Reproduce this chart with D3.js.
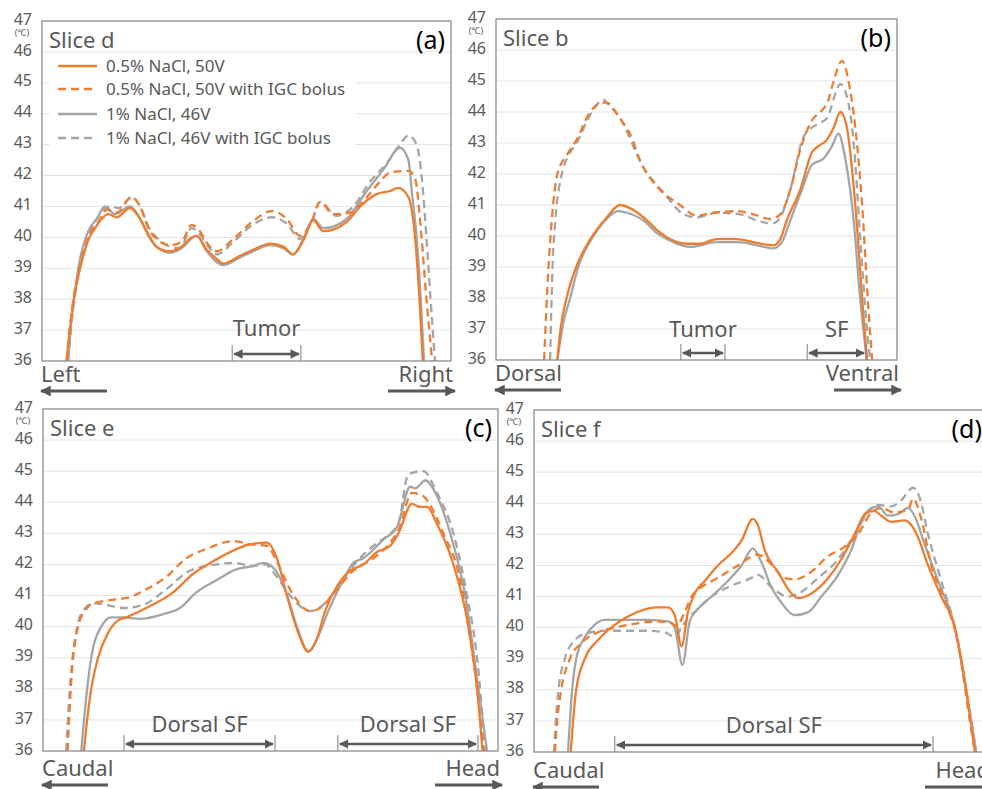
<!DOCTYPE html>
<html lang="en">
<head>
<meta charset="utf-8">
<title>Temperature profiles - slices d, b, e, f</title>
<script src="https://cdn.jsdelivr.net/npm/d3@7/dist/d3.min.js"></script>
<style>
  body { margin: 0; background: #fff; }
  svg text { font-family: "Noto Sans", "DejaVu Sans", sans-serif; }
</style>
</head>
<body>
<script>
// y axis ticks (deg C)
var yTicks = [36, 37, 38, 39, 40, 41, 42, 43, 44, 45, 46, 47];
var seriesNames = ["0.5% NaCl, 50V", "0.5% NaCl, 50V with IGC bolus", "1% NaCl, 46V", "1% NaCl, 46V with IGC bolus"];

// profiles: [position along line (% of width), temperature]
// slice d
var sliceD_05 = [[6.0,36],[6.8,37],[7.8,38],[9.3,39],[10.3,39.5],[11.6,40],[13.0,40.3],[14.6,40.6],[16.2,40.75],[18.3,40.65],[21.5,40.95],[24.0,40.6],[25.6,40.2],[28.0,39.7],[31.3,39.55],[34.1,39.7],[36.6,40.0],[37.8,40.05],[40.3,39.6],[42.7,39.3],[44.3,39.15],[48.4,39.4],[52.5,39.65],[55.7,39.8],[59.0,39.7],[61.4,39.45],[63.9,39.9],[66.3,40.55],[68.8,40.2],[71.2,40.25],[74.5,40.5],[77.8,41.0],[81.8,41.4],[85.1,41.5],[87.1,41.6],[89.6,41.3],[91.2,40.0],[92.3,38.0],[93.1,36.0]];
var sliceD_05b = [[6.0,36],[6.8,37.1],[7.8,38.1],[9.3,39.1],[11.6,40.1],[13.8,40.5],[15.8,40.9],[18.3,40.8],[21.9,41.3],[24.0,41.0],[26.0,40.3],[28.4,39.9],[31.3,39.75],[34.1,39.85],[36.6,40.4],[38.6,40.2],[40.7,39.75],[42.7,39.55],[46.8,39.95],[50.9,40.45],[56.2,40.85],[59.8,40.6],[63.1,40.05],[65.9,40.5],[68.0,41.15],[71.2,40.75],[75.3,40.8],[79.4,41.3],[82.6,41.8],[85.1,42.1],[89.6,42.15],[91.2,41.9],[92.8,40.0],[94.0,38.0],[95.4,36.0]];
var sliceD_1 = [[6.4,36],[7.1,37.2],[8.1,38.3],[9.3,39.3],[11.3,40.2],[13.4,40.6],[15.4,41.0],[17.8,40.75],[21.5,41.0],[24.0,40.6],[26.0,40.05],[28.4,39.65],[31.3,39.5],[34.1,39.65],[37.8,40.05],[40.3,39.55],[44.3,39.1],[48.4,39.35],[52.5,39.6],[55.7,39.75],[59.0,39.65],[61.4,39.45],[63.9,39.95],[66.3,40.6],[68.8,40.3],[71.2,40.35],[74.5,40.6],[79.4,41.5],[83.5,42.2],[87.5,42.9],[89.6,42.5],[90.4,41.5],[91.6,40.0],[92.6,38.0],[93.4,36.0]];
var sliceD_1b = [[6.4,36],[7.3,37.3],[8.5,38.5],[10.1,39.5],[11.7,40.2],[13.4,40.6],[15.0,40.9],[17.0,41.0],[18.7,40.95],[21.9,41.3],[24.0,41.0],[26.0,40.35],[28.4,39.95],[31.3,39.7],[33.7,39.65],[36.6,40.3],[38.6,40.1],[40.7,39.7],[42.7,39.45],[46.8,39.85],[50.9,40.35],[56.2,40.65],[59.8,40.45],[63.1,39.95],[65.9,40.5],[68.0,41.15],[72.0,40.7],[76.1,41.0],[80.2,41.8],[84.3,42.4],[87.5,43.0],[89.6,43.3],[91.6,43.0],[92.8,42.0],[94.0,40.0],[95.0,38.0],[96.1,36.0]];

// slice b
var sliceB_05 = [[15.3,36],[16.1,37],[17.6,38],[20.0,39],[22.6,39.7],[25.1,40.2],[27.6,40.6],[30.9,41.0],[33.4,40.9],[36.8,40.6],[40.1,40.2],[43.4,39.9],[47.6,39.75],[50.9,39.75],[55.1,39.9],[60.1,39.9],[64.2,39.8],[69.2,39.7],[70.9,39.9],[72.5,40.5],[75.9,41.5],[78.8,42.7],[80.4,42.9],[82.5,43.1],[84.2,43.5],[85.9,44.0],[87.5,43.5],[89.6,41.0],[91.3,38.0],[92.5,36.0]];
var sliceB_05b = [[12.0,36],[13.1,39],[13.9,40.5],[15.3,42.0],[17.6,42.6],[20.1,43.1],[23.0,43.9],[26.4,44.3],[27.6,44.3],[30.9,43.8],[33.4,43.3],[36.4,42.3],[40.1,41.6],[45.9,41.0],[50.1,40.65],[54.2,40.75],[60.1,40.8],[64.2,40.7],[68.4,40.55],[70.9,40.7],[73.4,41.5],[75.9,42.8],[79.2,43.8],[80.9,44.0],[82.9,44.4],[84.2,45.0],[86.3,45.65],[87.9,45.0],[89.6,43.5],[91.3,41.0],[92.7,38.0],[93.8,36.0]];
var sliceB_1 = [[15.3,36],[16.8,37.2],[18.5,38.0],[20.5,39.0],[24.3,40.0],[27.2,40.5],[30.5,40.8],[32.6,40.75],[36.8,40.5],[40.1,40.1],[43.4,39.85],[48.4,39.65],[55.1,39.8],[60.1,39.8],[65.1,39.7],[69.2,39.6],[71.3,39.8],[73.4,40.5],[76.3,41.5],[78.8,42.3],[81.7,42.5],[83.8,42.9],[85.4,43.3],[87.1,42.5],[89.2,40.5],[90.8,38.0],[92.5,36.0]];
var sliceB_1b = [[13.5,36],[14.1,39],[14.8,40.5],[16.4,42.0],[18.1,42.6],[20.1,43.0],[23.9,44.0],[26.8,44.4],[27.6,44.3],[30.9,43.8],[36.8,42.2],[41.8,41.4],[46.8,40.7],[50.1,40.6],[55.1,40.75],[60.9,40.7],[65.1,40.5],[68.8,40.4],[70.9,40.6],[73.4,41.5],[76.7,43.2],[80.0,43.6],[82.5,43.8],[85.9,44.9],[87.5,44.5],[89.2,43.0],[90.8,40.0],[92.5,37.0],[93.3,36.0]];

// slice e
var sliceE_05 = [[9.0,36],[9.7,37],[10.6,38],[12.1,39],[14.3,39.8],[16.5,40.2],[18.3,40.3],[22.7,40.6],[28.6,41.1],[33.0,41.7],[37.4,42.1],[42.6,42.5],[45.5,42.65],[49.2,42.7],[51.4,42.2],[53.6,41.0],[56.1,39.8],[58.3,39.2],[60.2,39.6],[62.0,40.5],[64.6,41.3],[67.5,41.8],[70.4,42.0],[73.4,42.4],[76.3,42.6],[78.1,43.0],[81.1,43.95],[82.9,43.85],[84.4,43.85],[86.6,43.3],[90.2,42.0],[93.5,40.0],[95.4,38.0],[96.6,36.0]];
var sliceE_05b = [[5.4,36],[6.1,38],[7.7,40],[9.2,40.5],[11.0,40.75],[14.7,40.85],[19.1,40.95],[22.7,41.2],[27.1,41.6],[31.5,42.2],[35.9,42.5],[41.8,42.75],[45.5,42.65],[49.2,42.6],[51.7,42.0],[54.3,41.2],[58.7,40.5],[60.9,40.6],[64.6,41.2],[68.2,41.8],[72.6,42.2],[76.3,42.7],[78.1,43.1],[81.1,44.3],[83.6,44.2],[84.7,44.0],[88.0,43.0],[91.7,41.5],[93.5,40.0],[95.4,38.0],[96.8,36.0]];
var sliceE_1 = [[8.4,36],[9.7,38],[10.6,39],[12.8,40],[15.0,40.3],[17.6,40.3],[21.3,40.25],[26.4,40.4],[30.1,40.6],[33.7,41.1],[38.2,41.5],[42.6,41.85],[46.2,41.95],[48.4,42.05],[50.6,41.9],[53.2,41.2],[55.8,40.0],[58.3,39.2],[60.5,39.7],[62.7,40.5],[66.0,41.5],[68.2,42.05],[70.4,42.2],[74.8,42.8],[77.8,43.2],[80.7,44.5],[81.8,44.45],[84.0,44.7],[86.6,44.2],[89.5,43.0],[92.8,41.0],[95.7,38.0],[97.6,36.0]];
var sliceE_1b = [[5.1,36],[5.9,38],[7.5,40],[8.8,40.5],[11.0,40.75],[13.9,40.7],[17.6,40.6],[22.0,40.7],[27.1,41.2],[32.3,41.8],[38.2,42.0],[41.8,42.05],[46.2,41.95],[48.8,42.0],[51.4,41.6],[54.3,41.0],[58.7,40.5],[61.6,40.7],[65.3,41.4],[69.0,42.1],[72.6,42.6],[76.3,43.0],[78.1,43.3],[80.3,44.9],[83.6,45.0],[86.6,44.3],[90.2,43.0],[93.2,41.0],[95.4,39.0],[97.2,36.0]];

// slice f
var sliceF_05 = [[8.1,36],[8.6,37],[9.3,38],[11.2,39],[14.1,39.6],[17.0,40.0],[20.0,40.3],[23.6,40.55],[27.3,40.65],[29.5,40.65],[31.0,40.4],[32.5,39.4],[33.9,40.5],[35.4,41.1],[37.6,41.5],[40.5,42.0],[43.5,42.4],[45.7,42.8],[48.2,43.5],[49.3,43.3],[50.8,42.5],[53.7,41.8],[56.7,41.1],[58.1,40.95],[61.1,41.1],[64.8,41.6],[67.7,42.2],[70.6,43.0],[73.2,43.7],[75.0,43.75],[76.5,43.6],[78.7,43.4],[81.6,43.45],[83.1,43.3],[84.6,42.9],[86.8,42.0],[89.7,41.0],[92.7,40.0],[95.2,38.0],[97.1,36.0]];
var sliceF_05b = [[4.6,36],[5.1,37],[6.0,38],[7.9,39],[10.4,39.5],[14.1,39.85],[17.8,40.0],[23.6,40.15],[26.6,40.2],[30.2,40.15],[31.4,40.05],[33.2,40.5],[34.7,41.0],[36.9,41.3],[40.5,41.6],[44.9,42.0],[49.3,42.35],[51.5,42.15],[55.2,41.6],[57.4,41.55],[61.1,41.8],[64.8,42.3],[68.4,42.6],[71.4,43.0],[74.3,43.7],[76.5,43.85],[79.4,43.7],[82.4,43.8],[83.5,44.15],[85.3,43.5],[87.5,42.0],[90.1,41.0],[93.4,39.5],[96.0,37.0],[97.1,36.0]];
var sliceF_1 = [[7.5,36],[8.4,38],[9.3,39],[11.2,39.7],[13.4,40.1],[15.6,40.25],[20.7,40.25],[25.1,40.25],[29.5,40.2],[31.0,40.0],[32.7,38.8],[34.3,40.2],[36.1,40.6],[39.1,41.0],[42.7,41.5],[45.7,42.0],[48.2,42.55],[50.1,42.1],[52.3,41.3],[54.5,40.8],[57.4,40.4],[60.4,40.5],[63.3,41.0],[67.0,41.7],[69.9,42.5],[72.1,43.4],[74.3,43.85],[75.8,43.9],[78.0,43.6],[80.2,43.65],[82.4,43.85],[83.8,43.6],[86.0,42.7],[89.0,41.5],[92.7,40.0],[95.2,38.0],[97.4,36.0]];
var sliceF_1b = [[4.4,36],[4.8,37],[5.4,38],[6.8,39],[9.0,39.6],[11.2,39.8],[15.6,39.9],[20.7,39.9],[25.1,39.9],[28.8,39.85],[31.0,39.7],[32.5,40.0],[33.9,40.3],[36.1,40.6],[39.1,41.0],[42.7,41.3],[47.9,41.6],[49.3,41.7],[52.3,41.3],[55.9,41.0],[58.9,41.15],[62.6,41.6],[67.0,42.2],[70.6,43.0],[73.6,43.7],[75.8,43.95],[78.7,43.9],[80.9,44.1],[83.5,44.5],[84.9,44.2],[86.8,43.0],[89.7,41.5],[92.7,40.0],[95.2,38.0],[97.4,36.0]];

// annotated regions (% of width)
var regionsD = [{label: "Tumor", from: 46.5, to: 63.3}];
var regionsB = [{label: "Tumor", from: 46.1, to: 57.1}, {label: "SF", from: 77.6, to: 92.3}];
var regionsE = [{label: "Dorsal SF", from: 17.8, to: 51.0}, {label: "Dorsal SF", from: 64.8, to: 95.6}];
var regionsF = [{label: "Dorsal SF", from: 17.8, to: 87.9}];

var w = 982, h = 789;
var orange = "#ED7D31", grey = "#A5A5A5", textCol = "#595959";
var styles = [
    {color: orange, dash: null},
    {color: orange, dash: "8,5"},
    {color: grey, dash: null},
    {color: grey, dash: "8,5"}
];

var panels = [
    {tag: "(a)", title: "Slice d", x0: 42, x1: 451, y0: 21, y1: 361, data: [sliceD_05, sliceD_05b, sliceD_1, sliceD_1b],
     regions: regionsD, labelGap: 25, left: "Left", right: "Right", dirY: 21, legend: true},
    {tag: "(b)", title: "Slice b", x0: 496, x1: 897, y0: 19, y1: 360, data: [sliceB_05, sliceB_05b, sliceB_1, sliceB_1b],
     regions: regionsB, labelGap: 23, left: "Dorsal", right: "Ventral", dirY: 21, legend: false},
    {tag: "(c)", title: "Slice e", x0: 43, x1: 498, y0: 409, y1: 751, data: [sliceE_05, sliceE_05b, sliceE_1, sliceE_1b],
     regions: regionsE, labelGap: 19, left: "Caudal", right: "Head", dirY: 25, legend: false},
    {tag: "(d)", title: "Slice f", x0: 534, x1: 988, y0: 410, y1: 752, data: [sliceF_05, sliceF_05b, sliceF_1, sliceF_1b],
     regions: regionsF, labelGap: 19, left: "Caudal", right: "Head", dirY: 26, legend: false}
];

var svg = d3.select("body")
    .append("svg")
    .attr("width", w)
    .attr("height", h);

var defs = svg.append("defs");
defs.append("marker")
    .attr("id", "head")
    .attr("viewBox", "0 0 10 10")
    .attr("refX", 9).attr("refY", 5)
    .attr("markerWidth", 3.6).attr("markerHeight", 3.6)
    .attr("orient", "auto-start-reverse")
    .append("path")
    .attr("d", "M0,0 L10,5 L0,10 Z")
    .attr("fill", textCol);

panels.forEach(function(p, i) {
    var xScale = d3.scaleLinear().domain([0, 100]).range([p.x0, p.x1]);
    var yScale = d3.scaleLinear().domain([36, 47]).range([p.y1, p.y0]);
    var g = svg.append("g");

    // gridlines
    g.selectAll(".grid")
     .data(yTicks.slice(1, -1))
     .enter()
     .append("line")
     .attr("x1", p.x0).attr("x2", p.x1)
     .attr("y1", function(d) { return yScale(d); })
     .attr("y2", function(d) { return yScale(d); })
     .attr("stroke", "#e4e4e4")
     .attr("stroke-width", 1);

    // tick labels
    g.selectAll(".tick")
     .data(yTicks)
     .enter()
     .append("text")
     .attr("x", p.x0 - 10)
     .attr("y", function(d) { return yScale(d) - 2; })
     .attr("dy", "0.35em")
     .attr("text-anchor", "end")
     .attr("font-size", "16px")
     .attr("fill", textCol)
     .text(function(d) { return d; });

    g.append("text")
     .attr("x", p.x0 - 20)
     .attr("y", yScale(47) + 15)
     .attr("text-anchor", "middle")
     .attr("font-size", "9px")
     .attr("fill", textCol)
     .text("(\u2103)");

    // clip lines to the plot area
    defs.append("clipPath")
        .attr("id", "clip" + i)
        .append("rect")
        .attr("x", p.x0).attr("y", p.y0)
        .attr("width", p.x1 - p.x0).attr("height", p.y1 - p.y0);

    // legend (panel a only)
    if (p.legend) {
        var lg = g.append("g");
        lg.append("rect")
          .attr("x", 50).attr("y", 56)
          .attr("width", 305).attr("height", 94)
          .attr("fill", "#fff");
        var rows = [66, 89, 114, 138];
        seriesNames.forEach(function(name, k) {
            lg.append("line")
              .attr("x1", 58).attr("x2", 97)
              .attr("y1", rows[k]).attr("y2", rows[k])
              .attr("stroke", styles[k].color)
              .attr("stroke-width", 2.6)
              .attr("stroke-dasharray", styles[k].dash);
            lg.append("text")
              .attr("x", 106).attr("y", rows[k])
              .attr("dy", "0.35em")
              .attr("font-size", "17px")
              .attr("fill", textCol)
              .text(name);
        });
    }

    // curves
    var line = d3.line()
        .x(function(d) { return xScale(d[0]); })
        .y(function(d) { return yScale(d[1]); })
        .curve(d3.curveMonotoneX);

    var order = [2, 3, 0, 1];
    order.forEach(function(k) {
        g.append("path")
         .datum(p.data[k])
         .attr("clip-path", "url(#clip" + i + ")")
         .attr("fill", "none")
         .attr("stroke", styles[k].color)
         .attr("stroke-width", 2.3)
         .attr("stroke-dasharray", styles[k].dash)
         .attr("d", line);
    });

    // plot frame
    g.append("rect")
     .attr("x", p.x0).attr("y", p.y0)
     .attr("width", p.x1 - p.x0).attr("height", p.y1 - p.y0)
     .attr("fill", "none")
     .attr("stroke", "#8c8c8c")
     .attr("stroke-width", 1.3);

    // titles
    g.append("text")
     .attr("x", p.x0 + 7).attr("y", p.y0 + 27)
     .attr("font-size", "22px")
     .attr("fill", textCol)
     .text(p.title);

    g.append("text")
     .attr("x", p.x1 - 6).attr("y", p.y0 + 28)
     .attr("text-anchor", "end")
     .attr("font-size", "25px")
     .attr("fill", "#000")
     .text(p.tag);

    // region brackets
    p.regions.forEach(function(r) {
        var xa = xScale(r.from), xb = xScale(r.to);
        var ly = p.y1 - 7;
        g.append("line")
         .attr("x1", xa).attr("x2", xa)
         .attr("y1", p.y1 - 16).attr("y2", p.y1)
         .attr("stroke", "#7f7f7f").attr("stroke-width", 1);
        g.append("line")
         .attr("x1", xb).attr("x2", xb)
         .attr("y1", p.y1 - 16).attr("y2", p.y1)
         .attr("stroke", "#7f7f7f").attr("stroke-width", 1);
        g.append("line")
         .attr("x1", xa + 2).attr("x2", xb - 2)
         .attr("y1", ly).attr("y2", ly)
         .attr("stroke", textCol)
         .attr("stroke-width", 2.6)
         .attr("marker-start", "url(#head)")
         .attr("marker-end", "url(#head)");
        g.append("text")
         .attr("x", (xa + xb) / 2).attr("y", p.y1 - p.labelGap)
         .attr("text-anchor", "middle")
         .attr("font-size", "22px")
         .attr("fill", textCol)
         .text(r.label);
    });

    // direction labels under the axis
    g.append("text")
     .attr("x", p.x0 - 1).attr("y", p.y1 + p.dirY)
     .attr("font-size", "22px")
     .attr("fill", textCol)
     .text(p.left);
    g.append("line")
     .attr("x1", p.x0 + 65).attr("x2", p.x0 - 1)
     .attr("y1", p.y1 + p.dirY + 9).attr("y2", p.y1 + p.dirY + 9)
     .attr("stroke", textCol).attr("stroke-width", 3)
     .attr("marker-end", "url(#head)");

    g.append("text")
     .attr("x", p.x1 + 2).attr("y", p.y1 + p.dirY)
     .attr("text-anchor", "end")
     .attr("font-size", "22px")
     .attr("fill", textCol)
     .text(p.right);
    g.append("line")
     .attr("x1", p.x1 - 63).attr("x2", p.x1 + 4)
     .attr("y1", p.y1 + p.dirY + 9).attr("y2", p.y1 + p.dirY + 9)
     .attr("stroke", textCol).attr("stroke-width", 3)
     .attr("marker-end", "url(#head)");
});
</script>
</body>
</html>
